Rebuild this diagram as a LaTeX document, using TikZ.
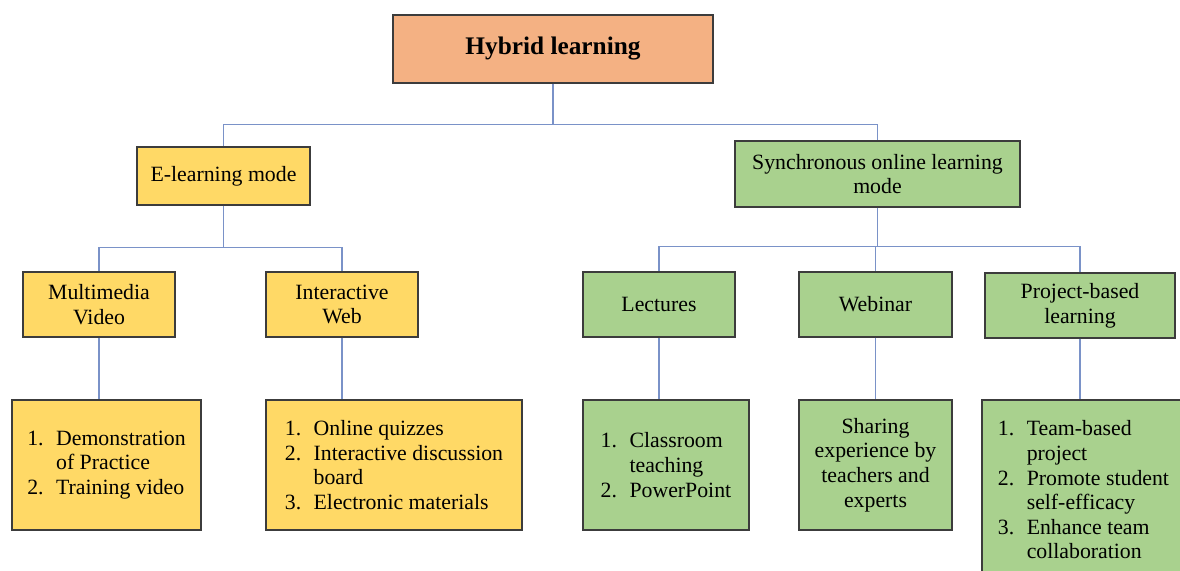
\documentclass[tikz,border=0pt]{standalone}
\usepackage{fontspec}
\setmainfont{Liberation Serif}
\usepackage{xcolor}
\definecolor{rootorange}{RGB}{244,177,131}
\definecolor{elearnyellow}{RGB}{255,217,102}
\definecolor{syncgreen}{RGB}{169,209,142}
\definecolor{linkblue}{RGB}{122,146,200}
\definecolor{boxedge}{RGB}{60,60,60}
\newcommand{\itm}[2]{\makebox[0.72cm][l]{#1}#2}
\newcommand{\cont}[1]{\hspace*{0.72cm}#1}

\begin{document}
\begin{tikzpicture}[x=0.025cm, y=-0.025cm,
    box/.style={draw=boxedge, line width=0.9pt, inner sep=2pt, align=center,
        font=\fontsize{15.5}{17.5}\selectfont},
    yellowbox/.style={box, fill=elearnyellow},
    greenbox/.style={box, fill=syncgreen},
    link/.style={draw=linkblue, line width=0.9pt}]
    \useasboundingbox (0,0) rectangle (1180,571);

    % Root
    \node[box, fill=rootorange, minimum width=8cm, minimum height=1.7cm,
        font=\fontsize{18}{21}\selectfont\bfseries] (hybrid) at (553,49) {Hybrid learning};

    % Modes
    \node[yellowbox, minimum width=4.325cm, minimum height=1.45cm] (elearn) at (223.5,176) {E-learning mode};
    \node[greenbox, minimum width=7.125cm, minimum height=1.65cm] (sync) at (877.5,174) {Synchronous online learning\\ mode};

    % E-learning branch
    \node[yellowbox, minimum width=3.8cm, minimum height=1.625cm] (mmv) at (99,304.5) {Multimedia\\ Video};
    \node[yellowbox, minimum width=3.8cm, minimum height=1.625cm] (iweb) at (342,304.5) {Interactive\\ Web};

    \node[yellowbox, align=left, minimum width=4.725cm, minimum height=3.25cm] (mmvlist) at (106.5,465)
        {\itm{1.}{Demonstration}\\ \cont{of Practice}\\ \itm{2.}{Training video}};
    \node[yellowbox, align=left, minimum width=6.4cm, minimum height=3.25cm] (iweblist) at (394,465)
        {\itm{1.}{Online quizzes}\\ \itm{2.}{Interactive discussion}\\ \cont{board}\\ \itm{3.}{Electronic materials}};

    % Synchronous branch
    \node[greenbox, minimum width=3.8cm, minimum height=1.625cm] (lect) at (659,304.5) {Lectures};
    \node[greenbox, minimum width=3.825cm, minimum height=1.625cm] (web) at (875.5,304.5) {Webinar};
    \node[greenbox, minimum width=4.75cm, minimum height=1.625cm] (pbl) at (1080,305.5) {Project-based\\ learning};

    \node[greenbox, align=left, minimum width=4.15cm, minimum height=3.25cm] (lectlist) at (666,465)
        {\itm{1.}{Classroom}\\ \cont{teaching}\\ \itm{2.}{PowerPoint}};
    \node[greenbox, minimum width=3.825cm, minimum height=3.25cm] (weblist) at (875.5,465)
        {Sharing\\ experience by\\ teachers and\\ experts};
    \node[greenbox, align=left, minimum width=5.075cm, minimum height=4.5cm] (pbllist) at (1083.5,490)
        {\itm{1.}{Team-based}\\ \cont{project}\\ \itm{2.}{Promote student}\\ \cont{self-efficacy}\\ \itm{3.}{Enhance team}\\ \cont{collaboration}};

    % Connectors
    \draw[link] (hybrid.south) -- ++(0,41) coordinate (hbar) -| (elearn.north);
    \draw[link] (hbar) -| (sync.north);
    \draw[link] (elearn.south) -- ++(0,42) coordinate (ebar) -| (mmv.north);
    \draw[link] (ebar) -| (iweb.north);
    \draw[link] (sync.south) -- ++(0,39) coordinate (sbar) -| (lect.north);
    \draw[link] (sbar) -| (web.north);
    \draw[link] (sbar) -| (pbl.north);

    \draw[link] (mmv.south) -- (mmv.south |- mmvlist.north);
    \draw[link] (iweb.south) -- (iweb.south |- iweblist.north);
    \draw[link] (lect.south) -- (lect.south |- lectlist.north);
    \draw[link] (web.south) -- (web.south |- weblist.north);
    \draw[link] (pbl.south) -- (pbl.south |- pbllist.north);

\end{tikzpicture}
\end{document}
